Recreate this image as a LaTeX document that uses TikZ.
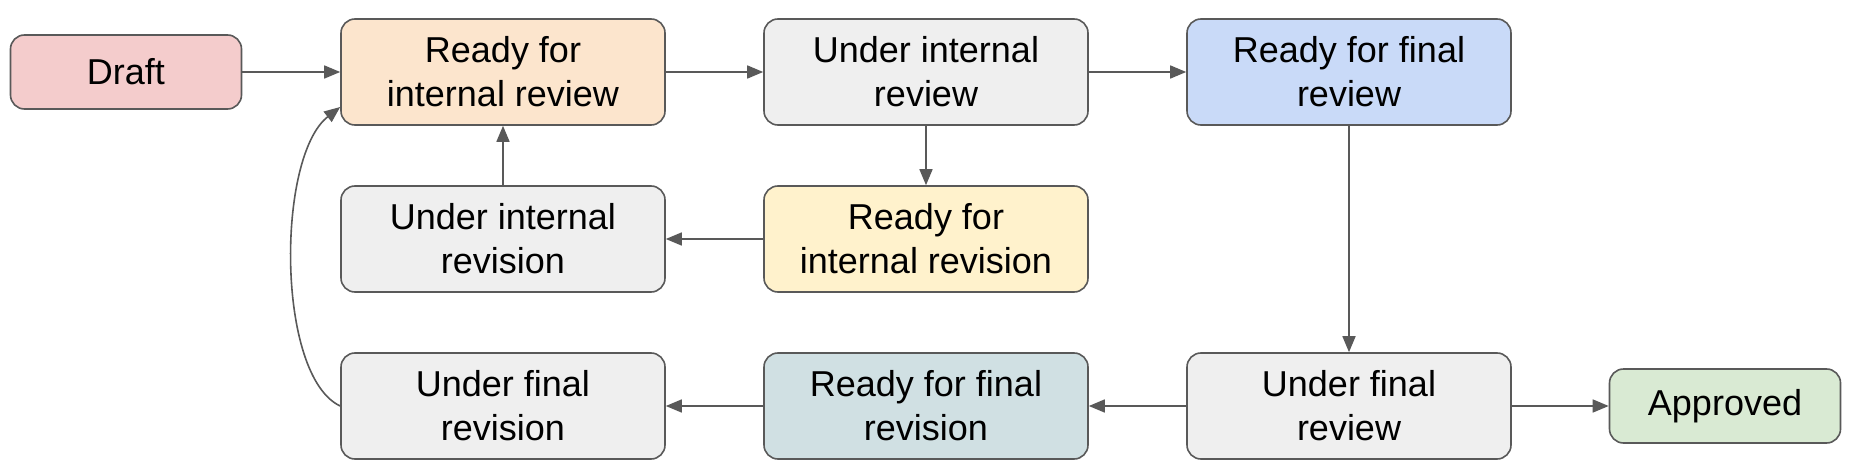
\documentclass[tikz,border=0pt]{standalone}
\usepackage{fontspec}
\setmainfont{Liberation Sans}
\usetikzlibrary{arrows.meta}

\definecolor{linegray}{HTML}{595959}
\definecolor{stategray}{HTML}{EFEFEF}
\definecolor{draftred}{HTML}{F4CCCC}
\definecolor{readyorange}{HTML}{FCE5CD}
\definecolor{finalblue}{HTML}{C9DAF8}
\definecolor{revyellow}{HTML}{FFF2CC}
\definecolor{revteal}{HTML}{D0E0E3}
\definecolor{approvedgreen}{HTML}{D9EAD3}

\def\colsep{423}

\begin{document}
\begin{tikzpicture}[x=1pt,y=-1pt,-{Triangle[length=16pt,width=13pt]},line width=1.6pt,draw=linegray]
    \tikzstyle{state}=[rectangle,rounded corners=14pt,draw=linegray,line width=1.6pt,minimum width=324pt,minimum height=106pt,inner sep=0pt,align=center,font=\fontsize{36}{44}\selectfont]
    \tikzstyle{grey state}=[state, fill=stategray];
    \tikzstyle{end state}=[state, minimum width=231pt, minimum height=74pt];

    \useasboundingbox (0,0) rectangle (1852,473);

    % Draw the top row
    \node[end state, fill=draftred] (Draft) at (126,72) {Draft};
    \node[state, fill=readyorange] (RIR) at (503,72) {Ready for\\internal review};
    \node[grey state] (UIR) at (503+\colsep,72) {Under internal\\review};
    \node[state, fill=finalblue] (RFR) at (503+2*\colsep,72) {Ready for final\\review};

    % Draw the internal revision row
    \node[grey state] (UIRev) at (503,239) {Under internal\\revision};
    \node[state, fill=revyellow] (RIRev) at (503+\colsep,239) {Ready for\\internal revision};

    % Draw the final revision row
    \node[grey state] (UFRev) at (503,406) {Under final\\revision};
    \node[state, fill=revteal] (RFRev) at (503+\colsep,406) {Ready for final\\revision};
    \node[grey state] (UFR) at (503+2*\colsep,406) {Under final\\review};
    \node[end state, fill=approvedgreen] (Approved) at (1725,406) {Approved};

    % Connect the states
    \path (Draft) edge (RIR);
    \path (RIR) edge (UIR);
    \path (UIR) edge (RFR);
    \path (UIR) edge (RIRev);
    \path (RIRev) edge (UIRev);
    \path (UIRev) edge (RIR);
    \path (RFR) edge (UFR);
    \path (UFR) edge (RFRev);
    \path (RFRev) edge (UFRev);
    \path (UFR) edge (Approved);

    % Back from final revision to internal review
    \draw (UFRev.west) .. controls +(-64,-30) and +(-64,50) .. ([yshift=-35pt]RIR.west);
\end{tikzpicture}
\end{document}
